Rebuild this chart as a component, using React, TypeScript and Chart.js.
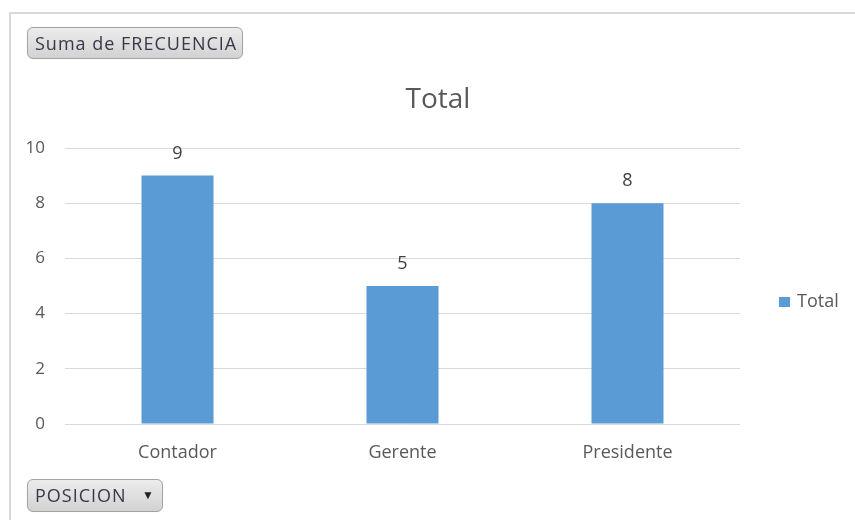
import React, { useEffect, useRef } from "react";
import { Chart, registerables } from "chart.js";

Chart.register(...registerables);

const categories = ["Contador", "Gerente", "Presidente"];
const totals = [9, 5, 8];
const seriesName = "Total";
const chartTitle = "Total";
const valueFieldLabel = "Suma de FRECUENCIA";
const axisFieldLabel = "POSICION";
const yMin = 0;
const yMax = 10;
const yStep = 2;

const FONT = "'Open Sans', 'Noto Sans', sans-serif";
const TEXT = "#595959";
const BAR = "#5B9BD5";
const GRID = "#d9d9d9";

const valueLabels = {
  id: "valueLabels",
  afterDatasetsDraw(chart: any) {
    const ctx = chart.ctx;
    const ds = chart.data.datasets[0];
    const meta = chart.getDatasetMeta(0);
    ctx.save();
    ctx.font = `18px ${FONT}`;
    ctx.fillStyle = "#404040";
    ctx.textAlign = "center";
    ctx.textBaseline = "middle";
    meta.data.forEach((bar: any, i: number) => {
      ctx.fillText(String(ds.data[i]), bar.x, bar.y - 22);
    });
    ctx.restore();
  },
};

const headerAndLegend = {
  id: "headerAndLegend",
  afterDraw(chart: any) {
    const ctx = chart.ctx;
    const area = chart.chartArea;
    const ds = chart.data.datasets[0];
    ctx.save();
    // title
    ctx.font = `28px ${FONT}`;
    ctx.fillStyle = TEXT;
    ctx.textAlign = "center";
    ctx.textBaseline = "middle";
    ctx.fillText(chartTitle, 438, 100);
    // legend
    const x = area.right + 39;
    const y = (area.top + area.bottom) / 2 + 16;
    ctx.fillStyle = ds.backgroundColor;
    ctx.fillRect(x, y - 5, 11, 10);
    ctx.font = `18px ${FONT}`;
    ctx.fillStyle = TEXT;
    ctx.textAlign = "left";
    ctx.fillText(ds.label, x + 18, y);
    ctx.restore();
  },
};

const btnStyle: React.CSSProperties = {
  position: "absolute",
  boxSizing: "border-box",
  border: "1px solid #a3a3a3",
  borderRadius: 6,
  background: "linear-gradient(#ececec, #d2d2d2)",
  color: "#383848",
  fontFamily: FONT,
  fontSize: 18,
  letterSpacing: 1,
  lineHeight: "30px",
  paddingLeft: 7,
  whiteSpace: "nowrap",
  boxShadow: "0 0 1px rgba(0,0,0,0.15)",
};

export default function App() {
  const canvasRef = useRef<HTMLCanvasElement | null>(null);

  useEffect(() => {
    const canvas = canvasRef.current;
    if (!canvas) return;
    const chart = new Chart(canvas, {
      type: "bar",
      data: {
        labels: categories,
        datasets: [
          {
            label: seriesName,
            data: totals,
            backgroundColor: BAR,
            borderWidth: 0,
            categoryPercentage: 1,
            barPercentage: 0.32,
          },
        ],
      },
      options: {
        responsive: false,
        animation: false,
        maintainAspectRatio: false,
        layout: { padding: { left: 0, right: 115, top: 148, bottom: 0 } },
        plugins: {
          legend: { display: false },
          tooltip: { enabled: false },
          title: { display: false },
        },
        scales: {
          x: {
            grid: { display: false, drawTicks: false },
            border: { display: false },
            ticks: {
              color: TEXT,
              font: { family: FONT, size: 18 },
              padding: 18,
              maxRotation: 0,
            },
            afterFit: (s: any) => {
              s.height = 96;
            },
          },
          y: {
            min: yMin,
            max: yMax,
            grid: { color: GRID, lineWidth: 1, drawTicks: false },
            border: { display: false },
            ticks: {
              stepSize: yStep,
              color: TEXT,
              font: { family: FONT, size: 17 },
              padding: 20,
            },
            afterFit: (s: any) => {
              s.width = 65;
            },
          },
        },
      },
      plugins: [valueLabels, headerAndLegend],
    });
    return () => chart.destroy();
  }, []);

  return (
    <div style={{ position: "absolute", left: 0, top: 0, width: 855, height: 520, background: "#fff", overflow: "hidden" }}>
      <div
        style={{
          position: "absolute",
          left: 9,
          top: 12,
          width: 900,
          height: 600,
          borderTop: `2px solid ${GRID}`,
          borderLeft: `2px solid ${GRID}`,
        }}
      />
      <canvas ref={canvasRef} width={855} height={520} style={{ position: "absolute", left: 0, top: 0 }} />
      <div style={{ ...btnStyle, left: 27, top: 27, width: 216, height: 32 }}>{valueFieldLabel}</div>
      <div style={{ ...btnStyle, left: 27, top: 479, width: 136, height: 33 }}>
        {axisFieldLabel}
        <span style={{ position: "absolute", right: 8, top: 0, fontSize: 12, letterSpacing: 0, color: "#222" }}>▼</span>
      </div>
    </div>
  );
}
